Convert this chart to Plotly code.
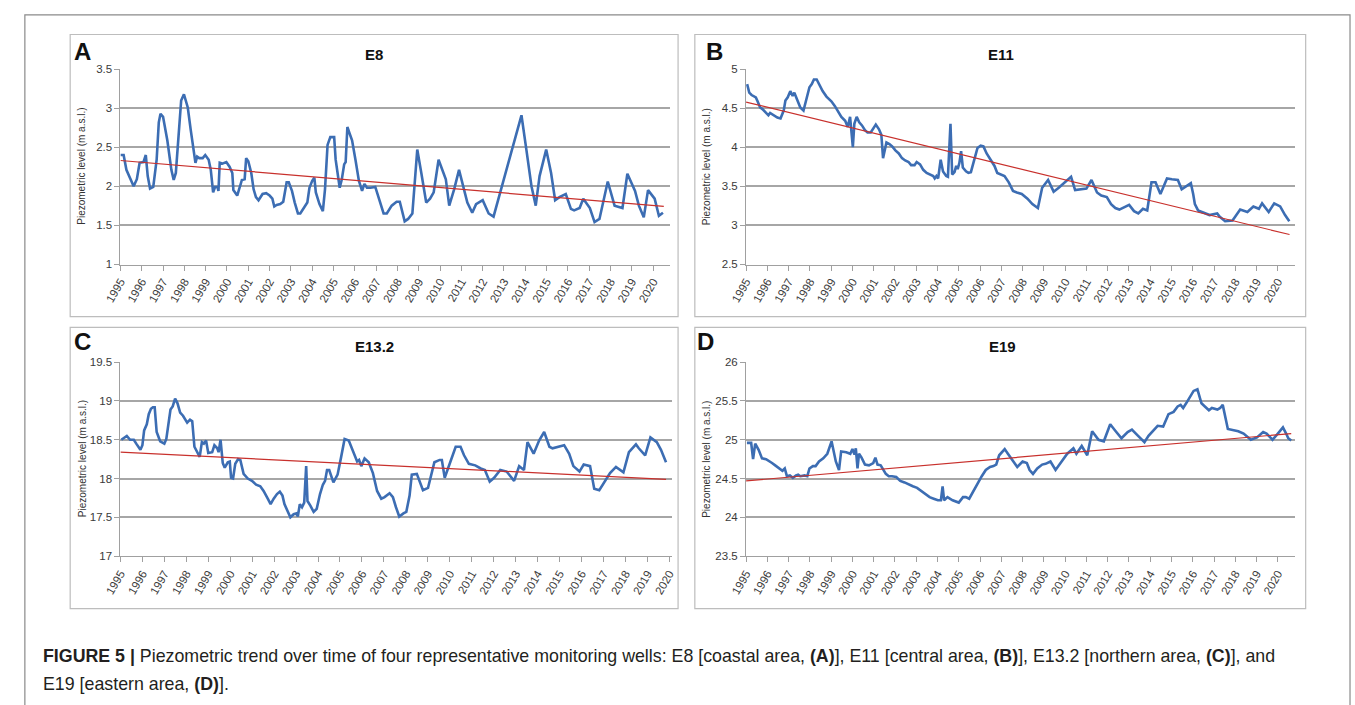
import plotly.graph_objects as go

# ---------------- DATA ----------------
tick_years = list(range(1995, 2021))
tick_labels = [str(y) for y in tick_years]

# Panel A - E8
e8_years = [1995.0, 1995.15, 1995.28, 1995.62, 1995.77, 1995.9, 1996.08, 1996.19, 1996.28, 1996.39,
            1996.54, 1996.7, 1996.8, 1996.88, 1997.0, 1997.2, 1997.39, 1997.5, 1997.6, 1997.7,
            1997.85, 1997.98, 1998.16, 1998.3, 1998.43, 1998.52, 1998.6, 1998.7, 1998.86, 1998.98,
            1999.14, 1999.24, 1999.35, 1999.44, 1999.55, 1999.6, 1999.66, 1999.78, 1999.97, 2000.12,
            2000.25, 2000.3, 2000.48, 2000.6, 2000.7, 2000.83, 2000.9, 2001.0, 2001.14, 2001.25,
            2001.36, 2001.48, 2001.67, 2001.84, 2002.0, 2002.13, 2002.22, 2002.33, 2002.5, 2002.64,
            2002.72, 2002.8, 2002.9, 2003.05, 2003.18, 2003.33, 2003.44, 2003.64, 2003.77, 2003.87,
            2004.0, 2004.1, 2004.17, 2004.34, 2004.5, 2004.6, 2004.72, 2004.85, 2004.98, 2005.03,
            2005.1, 2005.29, 2005.39, 2005.5, 2005.57, 2005.65, 2005.75, 2005.87, 2006.03, 2006.19,
            2006.34, 2006.45, 2006.57, 2006.73, 2006.96, 2007.12, 2007.35, 2007.5, 2007.73, 2007.96,
            2008.11, 2008.34, 2008.5, 2008.7, 2008.93, 2009.12, 2009.35, 2009.53, 2009.7, 2009.93,
            2010.12, 2010.27, 2010.43, 2010.66, 2010.89, 2011.05, 2011.28, 2011.51, 2011.69, 2012.0,
            2012.28, 2012.51, 2013.82, 2014.05, 2014.29, 2014.49, 2014.67, 2014.98, 2015.21, 2015.4,
            2015.6, 2015.9, 2016.14, 2016.29, 2016.55, 2016.72, 2016.86, 2017.03, 2017.25, 2017.48,
            2017.87, 2018.19, 2018.56, 2018.79, 2019.15, 2019.33, 2019.56, 2019.76, 2020.07, 2020.27,
            2020.46]
e8_levels = [2.40, 2.40, 2.21, 2.0, 2.09, 2.30, 2.31, 2.40, 2.13, 1.97,
             1.99, 2.34, 2.82, 2.93, 2.89, 2.59, 2.21, 2.08, 2.17, 2.55,
             3.10, 3.18, 3.01, 2.72, 2.45, 2.30, 2.38, 2.36, 2.36, 2.40,
             2.34, 2.21, 1.92, 1.99, 1.99, 1.94, 2.30, 2.29, 2.31, 2.25,
             2.17, 1.95, 1.88, 2.0, 2.08, 2.09, 2.36, 2.32, 2.17, 1.96,
             1.86, 1.82, 1.90, 1.91, 1.88, 1.84, 1.74, 1.76, 1.77, 1.80,
             1.92, 2.05, 2.05, 1.94, 1.79, 1.65, 1.65, 1.73, 1.79, 1.98,
             2.07, 2.11, 1.92, 1.77, 1.68, 1.96, 2.53, 2.63, 2.63, 2.63,
             2.34, 1.98, 2.09, 2.28, 2.31, 2.76, 2.68, 2.59, 2.34, 2.07,
             1.94, 2.03, 1.98, 1.98, 1.99, 1.84, 1.65, 1.65, 1.75, 1.80,
             1.80, 1.55, 1.58, 1.65, 2.47, 2.17, 1.79, 1.84, 1.92, 2.34,
             2.21, 2.09, 1.75, 1.96, 2.21, 2.05, 1.79, 1.66, 1.77, 1.82,
             1.65, 1.61, 2.91, 2.47, 2.0, 1.75, 2.13, 2.47, 2.17, 1.82,
             1.86, 1.90, 1.71, 1.69, 1.72, 1.84, 1.78, 1.72, 1.54, 1.58,
             2.06, 1.75, 1.72, 2.16, 1.94, 1.75, 1.60, 1.95, 1.84, 1.62,
             1.66]
e8_trend_years = [1995.0, 2020.5]
e8_trend_levels = [2.33, 1.74]

# Panel B - E11
e11_years = [1995.05, 1995.15, 1995.26, 1995.36, 1995.46, 1995.54, 1995.66, 1995.77, 1995.93, 1996.05,
             1996.13, 1996.28, 1996.47, 1996.62, 1996.77, 1996.85, 1996.96, 1997.08, 1997.19, 1997.27,
             1997.39, 1997.55, 1997.7, 1997.82, 1997.98, 1998.09, 1998.19, 1998.32, 1998.44, 1998.6,
             1998.78, 1999.01, 1999.17, 1999.32, 1999.48, 1999.66, 1999.78, 1999.89, 1999.94, 2000.02,
             2000.09, 2000.2, 2000.32, 2000.45, 2000.59, 2000.71, 2000.86, 2000.99, 2001.1, 2001.25,
             2001.36, 2001.44, 2001.53, 2001.6, 2001.74, 2001.87, 2002.02, 2002.18, 2002.33, 2002.48,
             2002.64, 2002.76, 2002.92, 2003.02, 2003.18, 2003.33, 2003.49, 2003.64, 2003.8, 2003.87,
             2003.95, 2004.03, 2004.15, 2004.26, 2004.41, 2004.49, 2004.61, 2004.69, 2004.8, 2004.88,
             2004.95, 2005.03, 2005.11, 2005.19, 2005.34, 2005.45, 2005.57, 2005.73, 2005.88, 2006.03,
             2006.16, 2006.31, 2006.5, 2006.68, 2006.81, 2006.99, 2007.15, 2007.35, 2007.55, 2007.73,
             2007.96, 2008.23, 2008.46, 2008.72, 2008.92, 2009.2, 2009.46, 2009.7, 2009.93, 2010.28,
             2010.47, 2010.7, 2011.0, 2011.24, 2011.5, 2011.7, 2011.96, 2012.16, 2012.36, 2012.55,
             2012.83, 2013.01, 2013.24, 2013.44, 2013.66, 2013.86, 2014.06, 2014.25, 2014.48, 2014.79,
             2015.02, 2015.3, 2015.48, 2015.67, 2015.91, 2016.02, 2016.1, 2016.25, 2016.56, 2016.79,
             2017.15, 2017.26, 2017.52, 2017.87, 2018.23, 2018.57, 2018.85, 2019.11, 2019.26, 2019.57,
             2019.83, 2020.11, 2020.34, 2020.54]
e11_levels = [4.81, 4.70, 4.67, 4.66, 4.64, 4.59, 4.51, 4.49, 4.45, 4.41,
              4.44, 4.41, 4.38, 4.37, 4.47, 4.60, 4.64, 4.72, 4.66, 4.70,
              4.62, 4.51, 4.47, 4.60, 4.77, 4.81, 4.87, 4.87, 4.81, 4.72,
              4.65, 4.59, 4.53, 4.46, 4.39, 4.34, 4.26, 4.39, 4.24, 4.00,
              4.30, 4.39, 4.32, 4.28, 4.22, 4.19, 4.19, 4.24, 4.29, 4.23,
              4.16, 3.86, 3.97, 4.06, 4.04, 4.01, 3.96, 3.92, 3.86, 3.83,
              3.81, 3.77, 3.77, 3.81, 3.78, 3.71, 3.67, 3.65, 3.63, 3.60,
              3.63, 3.60, 3.84, 3.69, 3.63, 3.62, 4.30, 3.65, 3.68, 3.76,
              3.72, 3.80, 3.95, 3.74, 3.69, 3.67, 3.68, 3.84, 3.99, 4.02,
              4.01, 3.92, 3.84, 3.76, 3.67, 3.65, 3.63, 3.55, 3.44, 3.42,
              3.40, 3.34, 3.27, 3.22, 3.48, 3.58, 3.43, 3.48, 3.54, 3.62,
              3.45, 3.46, 3.47, 3.58, 3.42, 3.38, 3.36, 3.27, 3.22, 3.20,
              3.24, 3.26, 3.18, 3.15, 3.21, 3.19, 3.55, 3.55, 3.40, 3.60,
              3.59, 3.58, 3.46, 3.50, 3.54, 3.40, 3.27, 3.19, 3.15, 3.13,
              3.15, 3.11, 3.05, 3.06, 3.20, 3.17, 3.24, 3.21, 3.28, 3.17,
              3.28, 3.24, 3.13, 3.05]
e11_trend_years = [1995.0, 2020.55]
e11_trend_levels = [4.58, 2.88]

# Panel C - E13.2
e13_years = [1995.04, 1995.29, 1995.44, 1995.61, 1995.72, 1995.82, 1995.91, 1996.0, 1996.08, 1996.2,
             1996.29, 1996.39, 1996.48, 1996.56, 1996.65, 1996.81, 1997.0, 1997.09, 1997.19, 1997.28,
             1997.38, 1997.49, 1997.6, 1997.72, 1997.85, 1998.04, 1998.17, 1998.27, 1998.37, 1998.48,
             1998.61, 1998.71, 1998.8, 1998.9, 1999.0, 1999.18, 1999.28, 1999.41, 1999.47, 1999.56,
             1999.66, 1999.75, 1999.89, 1999.98, 2000.04, 2000.13, 2000.23, 2000.36, 2000.46, 2000.61,
             2000.8, 2000.99, 2001.18, 2001.37, 2001.52, 2001.71, 2001.84, 2001.98, 2002.13, 2002.26,
             2002.38, 2002.47, 2002.57, 2002.74, 2002.89, 2003.02, 2003.08, 2003.17, 2003.27, 2003.37,
             2003.46, 2003.52, 2003.65, 2003.8, 2003.94, 2004.09, 2004.22, 2004.32, 2004.41, 2004.51,
             2004.7, 2004.89, 2005.04, 2005.21, 2005.4, 2005.55, 2005.65, 2005.78, 2005.87, 2005.97,
             2006.12, 2006.31, 2006.5, 2006.69, 2006.88, 2007.03, 2007.26, 2007.41, 2007.55, 2007.7,
             2007.89, 2008.02, 2008.17, 2008.27, 2008.5, 2008.63, 2008.78, 2009.01, 2009.16, 2009.3,
             2009.54, 2009.64, 2009.77, 2009.92, 2010.11, 2010.27, 2010.49, 2010.65, 2010.87, 2011.16,
             2011.41, 2011.6, 2011.82, 2012.02, 2012.3, 2012.59, 2012.93, 2013.16, 2013.38, 2013.54,
             2013.82, 2014.07, 2014.3, 2014.54, 2014.68, 2014.96, 2015.21, 2015.44, 2015.63, 2015.91,
             2016.1, 2016.39, 2016.58, 2016.81, 2017.05, 2017.3, 2017.57, 2017.91, 2018.16, 2018.48,
             2018.61, 2018.9, 2019.14, 2019.43, 2019.62, 2019.85]
e13_levels = [18.50, 18.55, 18.50, 18.50, 18.45, 18.41, 18.37, 18.43, 18.62, 18.70,
              18.83, 18.90, 18.92, 18.92, 18.60, 18.48, 18.45, 18.51, 18.70, 18.89,
              18.93, 19.03, 18.97, 18.85, 18.81, 18.72, 18.76, 18.74, 18.41, 18.35,
              18.28, 18.47, 18.45, 18.49, 18.33, 18.34, 18.43, 18.39, 18.34, 18.50,
              18.20, 18.14, 18.21, 18.22, 18.01, 18.00, 18.19, 18.25, 18.24, 18.06,
              18.00, 17.97, 17.92, 17.90, 17.84, 17.74, 17.67, 17.74, 17.80, 17.83,
              17.78, 17.67, 17.61, 17.50, 17.54, 17.55, 17.51, 17.67, 17.63, 17.69,
              18.16, 17.71, 17.65, 17.57, 17.61, 17.80, 17.92, 17.97, 18.11, 18.11,
              17.95, 18.05, 18.26, 18.51, 18.49, 18.39, 18.32, 18.22, 18.24, 18.16,
              18.26, 18.21, 18.07, 17.84, 17.74, 17.76, 17.81, 17.76, 17.63, 17.51,
              17.55, 17.57, 17.78, 18.05, 18.06, 17.97, 17.85, 17.88, 18.05, 18.21,
              18.24, 18.24, 18.01, 18.13, 18.28, 18.41, 18.41, 18.30, 18.19, 18.17,
              18.13, 18.11, 17.96, 18.01, 18.11, 18.09, 17.97, 18.16, 18.11, 18.47,
              18.32, 18.49, 18.60, 18.41, 18.39, 18.41, 18.43, 18.32, 18.16, 18.09,
              18.18, 18.16, 17.87, 17.85, 17.95, 18.07, 18.15, 18.08, 18.34, 18.44,
              18.39, 18.30, 18.53, 18.47, 18.37, 18.21]
e13_trend_years = [1995.0, 2019.85]
e13_trend_levels = [18.34, 17.99]

# Panel D - E19
e19_years = [1995.04, 1995.24, 1995.33, 1995.43, 1995.59, 1995.75, 1995.94, 1996.08, 1996.22, 1996.37,
             1996.57, 1996.71, 1996.82, 1996.92, 1997.06, 1997.2, 1997.35, 1997.45, 1997.55, 1997.75,
             1997.88, 1997.98, 1998.14, 1998.27, 1998.43, 1998.63, 1998.82, 1999.02, 1999.22, 1999.37,
             1999.47, 1999.71, 1999.9, 2000.0, 2000.1, 2000.16, 2000.24, 2000.31, 2000.43, 2000.59,
             2000.78, 2000.98, 2001.08, 2001.18, 2001.33, 2001.47, 2001.57, 2001.71, 2001.86, 2002.06,
             2002.25, 2002.45, 2002.65, 2002.84, 2003.04, 2003.24, 2003.43, 2003.63, 2003.82, 2004.02,
             2004.16, 2004.24, 2004.31, 2004.47, 2004.71, 2005.0, 2005.2, 2005.33, 2005.49, 2005.69,
             2005.88, 2006.08, 2006.27, 2006.47, 2006.63, 2006.76, 2006.9, 2007.02, 2007.16, 2007.31,
             2007.51, 2007.75, 2008.0, 2008.2, 2008.33, 2008.49, 2008.69, 2008.92, 2009.08, 2009.31,
             2009.55, 2009.8, 2010.1, 2010.39, 2010.53, 2010.78, 2011.04, 2011.27, 2011.57, 2011.82,
             2012.12, 2012.35, 2012.65, 2012.94, 2013.14, 2013.43, 2013.73, 2013.92, 2014.16, 2014.35,
             2014.61, 2014.86, 2015.1, 2015.29, 2015.43, 2015.55, 2015.69, 2015.88, 2016.04, 2016.22,
             2016.41, 2016.57, 2016.76, 2016.9, 2017.16, 2017.29, 2017.41, 2017.65, 2017.94, 2018.14,
             2018.39, 2018.73, 2019.02, 2019.31, 2019.47, 2019.75, 2020.0, 2020.24, 2020.39, 2020.49,
             2020.63]
e19_levels = [24.96, 24.96, 24.75, 24.95, 24.87, 24.76, 24.75, 24.73, 24.70, 24.67,
              24.63, 24.60, 24.63, 24.53, 24.54, 24.51, 24.54, 24.55, 24.53, 24.54,
              24.53, 24.63, 24.66, 24.66, 24.72, 24.76, 24.82, 24.98, 24.72, 24.61,
              24.85, 24.84, 24.82, 24.88, 24.81, 24.89, 24.63, 24.82, 24.77, 24.68,
              24.67, 24.70, 24.77, 24.68, 24.67, 24.61, 24.56, 24.53, 24.53, 24.52,
              24.47, 24.45, 24.42, 24.40, 24.38, 24.34, 24.30, 24.26, 24.24, 24.22,
              24.22, 24.40, 24.22, 24.26, 24.22, 24.19, 24.26, 24.26, 24.24, 24.34,
              24.42, 24.53, 24.61, 24.65, 24.66, 24.68, 24.80, 24.84, 24.88, 24.82,
              24.74, 24.65, 24.72, 24.70, 24.61, 24.56, 24.63, 24.68, 24.69, 24.72,
              24.61, 24.70, 24.82, 24.89, 24.82, 24.92, 24.80, 25.11, 25.00, 24.98,
              25.20, 25.12, 25.02, 25.10, 25.13, 25.05, 24.97, 25.05, 25.12, 25.18,
              25.17, 25.33, 25.36, 25.43, 25.45, 25.41, 25.47, 25.55, 25.63, 25.65,
              25.47, 25.43, 25.38, 25.41, 25.39, 25.41, 25.45, 25.14, 25.12, 25.11,
              25.08, 25.00, 25.03, 25.10, 25.08, 25.00, 25.08, 25.16, 25.08, 25.02,
              24.99]
e19_trend_years = [1995.0, 2020.63]
e19_trend_levels = [24.47, 25.08]

panel_letters = ["A", "B", "C", "D"]
panel_titles = ["E8", "E11", "E13.2", "E19"]
y_ticks = [[1, 1.5, 2, 2.5, 3, 3.5], [2.5, 3, 3.5, 4, 4.5, 5],
           [17, 17.5, 18, 18.5, 19, 19.5], [23.5, 24, 24.5, 25, 25.5, 26]]
y_tick_labels = [["1", "1.5", "2", "2.5", "3", "3.5"], ["2.5", "3", "3.5", "4", "4.5", "5"],
                 ["17", "17.5", "18", "18.5", "19", "19.5"], ["23.5", "24", "24.5", "25", "25.5", "26"]]
y_title = "Piezometric level (m a.s.l.)"
caption_line1 = ("<b>FIGURE 5 |</b> Piezometric trend over time of four representative monitoring wells: "
                 "E8 [coastal area, <b>(A)</b>], E11 [central area, <b>(B)</b>], "
                 "E13.2 [northern area, <b>(C)</b>], and")
caption_line2 = "E19 [eastern area, <b>(D)</b>]."

# ---------------- LAYOUT HELPERS ----------------
W, H = 1355, 705


def fx(px):
    return px / W


def fy(py):
    return 1 - py / H


# plot areas in pixels: (x0, x1, ytop, ybottom), x max of range
plot_px = [(106, 664, 64, 263, 2020.8),
           (741, 1298, 64, 263, 2020.8),
           (106, 666, 362, 560, 2020.13),
           (741, 1298, 362, 560, 2020.8)]
boxes_px = [(55, 29, 672, 316), (689, 29, 1309, 316), (55, 327, 672, 613), (689, 327, 1309, 613)]
letter_px = [(67, 46), (709, 46), (67, 341), (700, 341)]
title_px = [(363, 49), (1000, 49), (364, 346), (1001, 346)]
ytitle_px = [67, 701, 67, 701]

series = [(e8_years, e8_levels, e8_trend_years, e8_trend_levels),
          (e11_years, e11_levels, e11_trend_years, e11_trend_levels),
          (e13_years, e13_levels, e13_trend_years, e13_trend_levels),
          (e19_years, e19_levels, e19_trend_years, e19_trend_levels)]

BLUE = "#3c6db3"
RED = "#c8302c"
GRID = "#a6a6a6"
AXIS = "#a0a0a0"
TICKFONT = dict(family="Liberation Sans Narrow, Liberation Sans, Arial, sans-serif", size=11.5, color="#3a3a3a")

fig = go.Figure()
layout = dict(width=W, height=H, margin=dict(l=0, r=0, t=0, b=0),
              paper_bgcolor="white", plot_bgcolor="white", showlegend=False)
annotations = []
shapes = []

for i in range(4):
    n = "" if i == 0 else str(i + 1)
    x0, x1, yt, yb, xmax = plot_px[i]
    yrs, lv, tyrs, tlv = series[i]
    fig.add_trace(go.Scatter(x=yrs, y=lv, mode="lines", line=dict(color=BLUE, width=2.6),
                             xaxis="x" + n, yaxis="y" + n, hoverinfo="skip"))
    fig.add_trace(go.Scatter(x=tyrs, y=tlv, mode="lines", line=dict(color=RED, width=1.2),
                             xaxis="x" + n, yaxis="y" + n, hoverinfo="skip"))
    yv = y_ticks[i]
    pad = (yv[-1] - yv[0]) * 0.002
    layout["xaxis" + n] = dict(domain=[fx(x0), fx(x1)], anchor="y" + n, range=[1995, xmax],
                               tickmode="array", tickvals=tick_years, ticktext=tick_labels,
                               tickangle=-60, tickfont=TICKFONT, showgrid=False, zeroline=False,
                               showline=True, linecolor=AXIS, linewidth=1,
                               ticks="outside", ticklen=5, tickcolor=AXIS, tickwidth=1)
    layout["yaxis" + n] = dict(domain=[fy(yb), fy(yt)], anchor="x" + n,
                               range=[yv[0] - pad, yv[-1] + pad],
                               tickmode="array", tickvals=yv, ticktext=y_tick_labels[i],
                               tickfont=TICKFONT, showgrid=True, gridcolor=GRID, gridwidth=1.6,
                               zeroline=False, showline=True, linecolor=AXIS, linewidth=1,
                               ticks="outside", ticklen=5, tickcolor=AXIS, tickwidth=1)
    bx0, by0, bx1, by1 = boxes_px[i]
    shapes.append(dict(type="rect", xref="paper", yref="paper", x0=fx(bx0), x1=fx(bx1),
                       y0=fy(by1), y1=fy(by0), line=dict(color="#bdbdbd", width=1.2),
                       fillcolor="rgba(0,0,0,0)", layer="below"))
    lx, ly = letter_px[i]
    annotations.append(dict(text="<b>%s</b>" % panel_letters[i], x=fx(lx), y=fy(ly), xref="paper",
                            yref="paper", showarrow=False, xanchor="center", yanchor="middle",
                            font=dict(family="Liberation Sans, Arial, sans-serif", size=24, color="#111111")))
    tx, ty = title_px[i]
    annotations.append(dict(text="<b>%s</b>" % panel_titles[i], x=fx(tx), y=fy(ty), xref="paper",
                            yref="paper", showarrow=False, xanchor="center", yanchor="middle",
                            font=dict(family="Liberation Sans Narrow, Liberation Sans, Arial, sans-serif",
                                      size=15, color="#111111")))
    annotations.append(dict(text=y_title, x=fx(ytitle_px[i]), y=fy((yt + yb) / 2), xref="paper",
                            yref="paper", showarrow=False, xanchor="center", yanchor="middle",
                            textangle=-90,
                            font=dict(family="Liberation Sans, Arial, sans-serif", size=10, color="#333333")))

# outer frame
shapes.append(dict(type="rect", xref="paper", yref="paper", x0=fx(9), x1=fx(1354), y0=fy(720), y1=fy(9),
                   line=dict(color="#8a8a8a", width=1.2), fillcolor="rgba(0,0,0,0)", layer="below"))

CAPFONT = dict(family="Liberation Sans, Arial, sans-serif", size=17.8, color="#231f20")
annotations.append(dict(text=caption_line1, x=fx(25), y=fy(661), xref="paper", yref="paper",
                        showarrow=False, xanchor="left", yanchor="middle", font=CAPFONT))
annotations.append(dict(text=caption_line2, x=fx(25), y=fy(690), xref="paper", yref="paper",
                        showarrow=False, xanchor="left", yanchor="middle", font=CAPFONT))

layout["annotations"] = annotations
layout["shapes"] = shapes
fig.update_layout(**layout)
fig.write_html("out.html")
